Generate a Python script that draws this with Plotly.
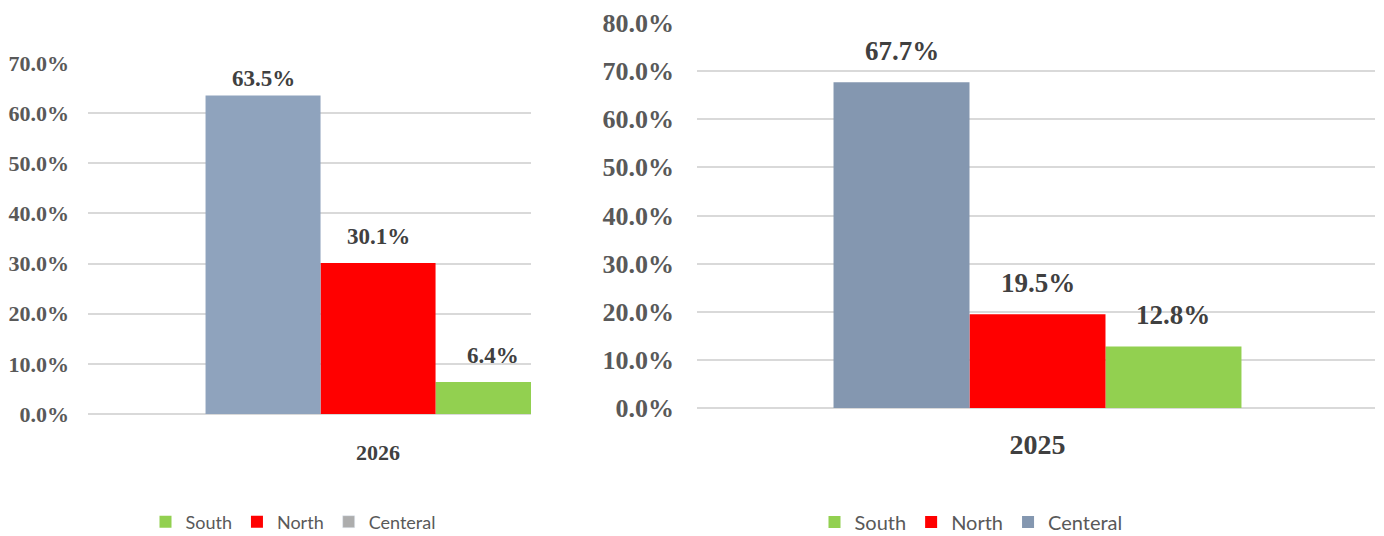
import plotly.graph_objects as go

# ---- data ----
series = ["South", "North", "Centeral"]
values_2026 = [6.4, 30.1, 63.5]
values_2025 = [12.8, 19.5, 67.7]
year_left = "2026"
year_right = "2025"
y_ticks_left = [0, 10, 20, 30, 40, 50, 60, 70]
y_ticks_right = [0, 10, 20, 30, 40, 50, 60, 70, 80]
y_ticktext_left = ["0.0%", "10.0%", "20.0%", "30.0%", "40.0%", "50.0%", "60.0%", "70.0%"]
y_ticktext_right = ["0.0%", "10.0%", "20.0%", "30.0%", "40.0%", "50.0%", "60.0%", "70.0%", "80.0%"]

# ---- styles ----
colors_left = {"South": "#92D050", "North": "#FF0000", "Centeral": "#8FA3BD"}
colors_right = {"South": "#92D050", "North": "#FF0000", "Centeral": "#8497B0"}
legend_gray = "#ADADAD"
offsets = {"Centeral": -1.5, "North": -0.5, "South": 0.5}
label_shift_left = {"Centeral": 3, "North": 12, "South": 12}

PAD = 8  # page body margin
W, H = 1384 - PAD, 536 - PAD


def fx(p):
    return (p - PAD) / W


def fy(p):
    return 1 - (p - PAD) / H


serif = "Liberation Serif"
sans = "Lato"

fig = go.Figure()

# left chart bars
for name, val in zip(series, values_2026):
    fig.add_trace(go.Bar(
        x=[0], y=[val], width=1, offset=offsets[name], name=name,
        marker=dict(color=colors_left[name], line=dict(width=0)),
        xaxis="x", yaxis="y", legend="legend",
        showlegend=(name != "Centeral"), hoverinfo="skip"))
# left legend entry for Centeral (gray marker in reference legend)
fig.add_trace(go.Bar(x=[None], y=[None], name="Centeral",
                     marker=dict(color=legend_gray), xaxis="x", yaxis="y",
                     legend="legend", showlegend=True))

# right chart bars
for name, val in zip(series, values_2025):
    fig.add_trace(go.Bar(
        x=[0], y=[val], width=1, offset=offsets[name], name=name,
        marker=dict(color=colors_right[name], line=dict(width=0)),
        xaxis="x2", yaxis="y2", legend="legend2", hoverinfo="skip"))

annotations = []
for name, val in zip(series, values_2026):
    annotations.append(dict(
        x=offsets[name] + 0.5, y=val, xref="x", yref="y", text=f"{val:.1f}%",
        showarrow=False, yanchor="bottom", yshift=label_shift_left[name],
        font=dict(family=serif, size=23, color="#404040", weight="bold")))
for name, val in zip(series, values_2025):
    annotations.append(dict(
        x=offsets[name] + 0.5, y=val, xref="x2", yref="y2", text=f"{val:.1f}%",
        showarrow=False, yanchor="bottom", yshift=14,
        font=dict(family=serif, size=27, color="#404040", weight="bold")))

grid = "#D9D9D9"
fig.update_layout(
    width=W, height=H, margin=dict(l=0, r=0, t=0, b=0, autoexpand=False),
    paper_bgcolor="white", plot_bgcolor="white",
    barmode="overlay",
    annotations=annotations,
    xaxis=dict(domain=[fx(88), fx(531)], range=[-2.522, 1.33], anchor="y",
               automargin=False,
               tickmode="array", tickvals=[0], ticktext=[year_left],
               showgrid=False, zeroline=False,
               showline=False, ticks="", ticklabelstandoff=23,
               tickfont=dict(family=serif, size=22, color="#404040", weight="bold")),
    yaxis=dict(domain=[fy(414), fy(63)], range=[0, 70], anchor="x",
               automargin=False,
               tickmode="array", tickvals=y_ticks_left, ticktext=y_ticktext_left,
               showgrid=True, gridcolor=grid, gridwidth=2,
               zeroline=True, zerolinecolor=grid, zerolinewidth=2,
               showline=False, ticks="", ticklabelstandoff=18,
               tickfont=dict(family=serif, size=22, color="#595959", weight="bold")),
    xaxis2=dict(domain=[fx(697), fx(1375)], range=[-2.504, 2.482], anchor="y2",
                automargin=False,
                tickmode="array", tickvals=[0], ticktext=[year_right],
                showgrid=False, zeroline=False,
                showline=False, ticks="", ticklabelstandoff=17,
                tickfont=dict(family=serif, size=28, color="#404040", weight="bold")),
    yaxis2=dict(domain=[fy(408), fy(23)], range=[0, 80], anchor="x2",
                automargin=False,
                tickmode="array", tickvals=y_ticks_right, ticktext=y_ticktext_right,
                showgrid=True, gridcolor=grid, gridwidth=2,
                zeroline=True, zerolinecolor=grid, zerolinewidth=2,
                showline=False, ticks="", ticklabelstandoff=22,
                tickfont=dict(family=serif, size=26, color="#595959", weight="bold")),
    legend=dict(orientation="h", x=fx(293), xanchor="center", y=fy(522),
                yanchor="middle", traceorder="normal",
                font=dict(family=sans, size=18, color="#595959")),
    legend2=dict(orientation="h", x=fx(971), xanchor="center", y=fy(522),
                 yanchor="middle", traceorder="normal",
                 font=dict(family=sans, size=20, color="#595959")),
)

fig.write_html("out.html")
